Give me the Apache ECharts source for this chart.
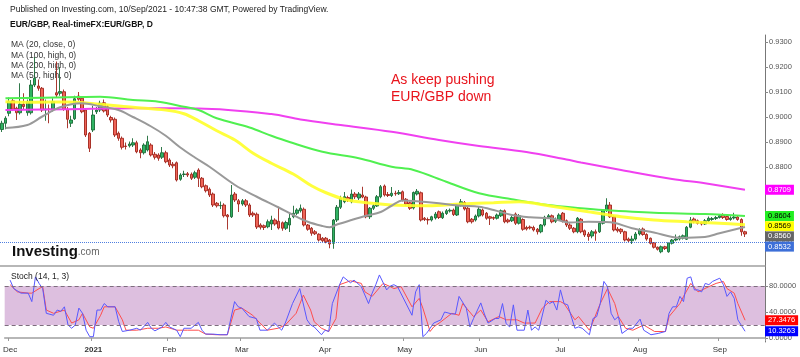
<!DOCTYPE html>
<html><head><meta charset="utf-8">
<script src="https://cdn.jsdelivr.net/npm/echarts@6/dist/echarts.min.js"></script>
<style>html,body{margin:0;padding:0;background:#fff}#c{width:800px;height:357px}</style>
</head><body><div id="c"></div>
<script>
// ---- OHLC (daily, 2020-11-30 .. 2021-09-10) ----
const opens = [.8950,.8975,.9015,.9065,.9035,.9017,.9051,.9017,.9017,.9128,.9124,.9115,.9028,.9032,.9031,.9097,.9095,.9101,.9031,.8975,.8993,.9084,.9075,.9028,.8935,.8948,.9021,.9028,.9057,.9041,.8998,.8991,.8935,.8915,.8884,.8885,.8888,.8897,.8868,.8857,.8868,.8888,.8851,.8848,.8839,.8857,.8828,.8811,.8817,.8751,.8770,.8773,.8771,.8759,.8788,.8755,.8725,.8711,.8692,.8655,.8645,.8648,.8608,.8601,.8692,.8665,.8652,.8665,.8648,.8615,.8611,.8568,.8565,.8561,.8572,.8588,.8583,.8577,.8555,.8568,.8601,.8615,.8625,.8631,.8568,.8555,.8541,.8531,.8515,.8515,.8508,.8495,.8588,.8639,.8661,.8678,.8661,.8692,.8676,.8688,.8680,.8601,.8635,.8644,.8681,.8724,.8690,.8686,.8695,.8693,.8701,.8671,.8657,.8636,.8692,.8697,.8595,.8590,.8588,.8596,.8621,.8597,.8614,.8624,.8628,.8608,.8648,.8658,.8635,.8591,.8588,.8604,.8628,.8615,.8601,.8598,.8595,.8605,.8625,.8588,.8585,.8612,.8575,.8590,.8558,.8560,.8558,.8551,.8541,.8568,.8599,.8605,.8583,.8590,.8615,.8585,.8568,.8555,.8541,.8591,.8545,.8532,.8524,.8541,.8541,.8575,.8628,.8648,.8601,.8552,.8551,.8541,.8512,.8505,.8512,.8532,.8552,.8530,.8515,.8497,.8479,.8461,.8481,.8461,.8495,.8508,.8512,.8515,.8511,.8559,.8592,.8585,.8578,.8572,.8585,.8590,.8594,.8598,.8608,.8602,.8590,.8596,.8600,.8590,.8541];
const closes = [.8975,.8995,.9061,.9031,.9017,.9051,.9042,.9061,.9128,.9155,.9115,.9028,.9032,.9030,.9061,.9088,.9102,.9031,.8991,.8988,.9073,.9071,.9021,.8928,.8875,.9008,.9028,.9055,.9024,.9008,.8988,.8928,.8915,.8879,.8882,.8892,.8897,.8861,.8857,.8888,.8901,.8848,.8839,.8835,.8857,.8821,.8808,.8805,.8748,.8768,.8772,.8768,.8755,.8777,.8755,.8721,.8705,.8688,.8648,.8645,.8646,.8605,.8601,.8688,.8668,.8652,.8665,.8648,.8608,.8608,.8560,.8559,.8558,.8581,.8588,.8572,.8556,.8555,.8578,.8595,.8615,.8628,.8635,.8568,.8551,.8535,.8533,.8508,.8505,.8501,.8492,.8588,.8639,.8675,.8681,.8668,.8692,.8681,.8692,.8680,.8601,.8635,.8645,.8681,.8721,.8688,.8686,.8695,.8693,.8698,.8668,.8652,.8635,.8698,.8703,.8588,.8590,.8588,.8601,.8612,.8598,.8615,.8625,.8627,.8610,.8648,.8661,.8632,.8581,.8581,.8604,.8631,.8608,.8595,.8595,.8595,.8608,.8625,.8581,.8581,.8598,.8575,.8605,.8551,.8552,.8556,.8548,.8541,.8568,.8599,.8605,.8581,.8590,.8608,.8585,.8568,.8555,.8541,.8595,.8541,.8528,.8522,.8541,.8535,.8575,.8628,.8648,.8601,.8548,.8545,.8541,.8508,.8505,.8512,.8532,.8548,.8530,.8512,.8495,.8479,.8471,.8481,.8474,.8497,.8508,.8512,.8521,.8525,.8559,.8588,.8581,.8575,.8572,.8585,.8595,.8594,.8598,.8605,.8598,.8590,.8596,.8600,.8590,.8541,.8532];
const lows = [.8940,.8951,.9003,.9025,.8988,.9010,.9030,.9005,.9010,.9120,.9105,.9020,.8985,.8975,.9022,.9080,.9085,.9025,.8955,.8960,.8988,.9065,.9015,.8920,.8860,.8940,.9012,.9020,.9018,.9000,.8978,.8920,.8905,.8870,.8870,.8878,.8880,.8855,.8835,.8850,.8862,.8842,.8830,.8825,.8832,.8815,.8800,.8795,.8742,.8745,.8760,.8760,.8748,.8752,.8720,.8715,.8698,.8680,.8640,.8638,.8632,.8598,.8550,.8596,.8660,.8620,.8645,.8640,.8600,.8600,.8552,.8550,.8548,.8555,.8548,.8565,.8550,.8545,.8548,.8540,.8595,.8608,.8618,.8562,.8545,.8525,.8528,.8502,.8498,.8495,.8475,.8473,.8580,.8632,.8655,.8660,.8655,.8672,.8668,.8675,.8595,.8592,.8628,.8640,.8675,.8682,.8680,.8680,.8685,.8688,.8662,.8646,.8628,.8630,.8686,.8582,.8584,.8570,.8582,.8590,.8592,.8592,.8608,.8618,.8604,.8604,.8642,.8626,.8575,.8574,.8582,.8598,.8602,.8589,.8568,.8588,.8590,.8600,.8575,.8575,.8580,.8568,.8570,.8545,.8546,.8550,.8542,.8530,.8535,.8562,.8595,.8575,.8576,.8584,.8578,.8560,.8548,.8535,.8535,.8535,.8520,.8505,.8515,.8505,.8536,.8570,.8620,.8596,.8542,.8538,.8532,.8502,.8498,.8492,.8506,.8526,.8525,.8505,.8490,.8474,.8466,.8455,.8468,.8457,.8490,.8503,.8506,.8510,.8508,.8555,.8575,.8570,.8566,.8568,.8580,.8585,.8588,.8594,.8592,.8585,.8585,.8590,.8585,.8525,.8520];
const highs = [.8985,.9003,.9078,.9075,.9041,.9135,.9095,.9070,.9148,.9240,.9150,.9120,.9070,.9050,.9075,.9222,.9200,.9110,.9040,.9005,.9085,.9100,.9082,.9035,.8940,.9045,.9040,.9065,.9070,.9048,.9005,.8998,.8942,.8922,.8898,.8902,.8915,.8905,.8875,.8895,.8925,.8895,.8860,.8855,.8880,.8865,.8835,.8820,.8822,.8775,.8785,.8780,.8778,.8785,.8795,.8760,.8730,.8718,.8698,.8660,.8662,.8655,.8612,.8728,.8700,.8672,.8672,.8672,.8655,.8622,.8618,.8575,.8570,.8590,.8605,.8595,.8641,.8582,.8585,.8615,.8645,.8635,.8650,.8638,.8572,.8560,.8548,.8535,.8520,.8520,.8512,.8592,.8648,.8685,.8700,.8685,.8710,.8700,.8700,.8721,.8685,.8640,.8652,.8688,.8728,.8730,.8700,.8720,.8705,.8708,.8706,.8676,.8662,.8702,.8712,.8702,.8600,.8598,.8605,.8620,.8626,.8622,.8632,.8634,.8634,.8652,.8672,.8664,.8640,.8596,.8610,.8640,.8634,.8620,.8605,.8602,.8614,.8630,.8630,.8594,.8605,.8618,.8612,.8595,.8565,.8566,.8565,.8556,.8572,.8605,.8612,.8610,.8598,.8615,.8620,.8590,.8575,.8560,.8600,.8596,.8550,.8540,.8548,.8550,.8580,.8632,.8675,.8660,.8606,.8560,.8555,.8545,.8518,.8525,.8540,.8555,.8558,.8535,.8518,.8500,.8482,.8486,.8485,.8500,.8512,.8530,.8526,.8530,.8564,.8600,.8598,.8590,.8582,.8592,.8602,.8600,.8604,.8612,.8615,.8608,.8603,.8617,.8606,.8595,.8545];

// ---- moving averages, read at [bar index, value] ----
const ma20 = [[1,.8956],[7,.8968],[11,.9001],[16,.9039],[22,.9055],[27,.9043],[32,.9028],[36,.9000],[41,.8962],[45,.8925],[49,.8878],[53,.8838],[57,.8801],[64,.8728],[70,.8681],[76,.8638],[80,.8608],[84,.8581],[88,.8564],[90,.8559],[92,.8570],[96,.8588],[100,.8605],[104,.8620],[107,.8645],[110,.8666],[113,.8664],[120,.8655],[126,.8645],[131,.8641],[135,.8628],[140,.8608],[145,.8599],[151,.8594],[156,.8578],[161,.8581],[165,.8580],[168,.8577],[173,.8555],[179,.8538],[186,.8517],[193,.8520],[197,.8535],[202,.8553],[204,.8560]];
const ma50 = [[1,.9061],[9,.9059],[18,.9060],[27,.9051],[36,.9039],[45,.9028],[50,.9013],[54,.8985],[59,.8945],[64,.8908],[69,.8855],[74,.8815],[80,.8772],[85,.8725],[89,.8697],[94,.8671],[98,.8661],[107,.8648],[117,.8645],[126,.8652],[135,.8657],[142,.8661],[151,.8643],[161,.8621],[170,.8601],[179,.8588],[188,.8581],[197,.8575],[204,.8569]];
const ma100 = [[1,.9075],[18,.9079],[27,.9081],[36,.9068],[43,.9061],[50,.9041],[54,.9028],[59,.8995],[68,.8958],[74,.8925],[79,.8900],[88,.8861],[98,.8835],[107,.8801],[113,.8788],[122,.8741],[131,.8695],[140,.8671],[150,.8648],[159,.8635],[165,.8628],[179,.8617],[193,.8612],[204,.8604]];
const ma200 = [[1,.9028],[18,.9031],[36,.9035],[54,.9034],[74,.9012],[82,.8990],[93,.8968],[107,.8941],[120,.8908],[131,.8884],[144,.8860],[155,.8830],[159,.8818],[170,.8788],[184,.8752],[193,.8735],[204,.8709]];

// ---- Stochastic (14,1,3) ----
const stochK = [[1,89],[2,76],[4,69],[6,69],[7,56],[8,94],[9,84],[10,76],[11,38],[13,35],[14,43],[15,41],[16,48],[17,20],[18,15],[19,20],[20,46],[21,38],[22,12],[23,2],[24,2],[25,43],[26,43],[27,53],[28,48],[30,48],[31,25],[32,10],[34,12],[36,15],[37,12],[39,24],[40,15],[41,11],[43,17],[44,24],[45,17],[47,12],[48,2],[49,15],[51,15],[53,24],[54,12],[55,6],[57,6],[59,5],[61,5],[63,56],[64,48],[65,46],[67,33],[69,30],[70,12],[72,12],[73,17],[74,23],[76,12],[77,23],[79,53],[81,76],[83,28],[84,20],[85,17],[87,5],[88,12],[89,10],[90,53],[92,82],[93,94],[95,85],[96,89],[98,79],[100,53],[101,69],[102,82],[103,97],[105,74],[106,80],[107,82],[108,79],[112,35],[113,71],[114,82],[115,2],[116,7],[118,23],[120,28],[121,40],[123,37],[124,37],[125,64],[127,46],[128,17],[129,30],[131,54],[132,37],[133,23],[135,30],[136,30],[137,53],[138,22],[139,17],[140,51],[141,12],[143,12],[144,43],[145,12],[146,17],[147,12],[149,58],[150,53],[151,56],[152,43],[153,74],[154,53],[155,51],[157,15],[158,17],[159,15],[161,5],[162,30],[163,33],[164,53],[165,87],[166,79],[167,38],[168,28],[169,33],[170,7],[172,15],[173,15],[175,29],[176,12],[178,5],[180,7],[182,10],[183,38],[184,48],[185,48],[186,64],[187,56],[188,92],[189,94],[190,74],[191,74],[192,71],[193,84],[194,82],[195,87],[197,92],[198,82],[199,64],[200,71],[201,61],[202,28],[204,10.3263]];
const stochD = [[1,82],[3,71],[6,69],[7,69],[9,76],[10,79],[11,43],[13,38],[16,43],[18,23],[20,28],[21,38],[23,17],[24,15],[26,35],[27,48],[30,48],[32,28],[33,12],[36,12],[39,15],[42,15],[44,17],[47,12],[50,12],[53,12],[55,6],[58,5],[61,5],[63,43],[65,46],[68,35],[70,23],[72,12],[75,15],[77,20],[80,38],[82,66],[84,43],[85,25],[87,15],[89,10],[91,30],[92,82],[95,88],[98,84],[99,71],[101,64],[104,84],[106,79],[107,76],[109,79],[112,48],[114,61],[115,46],[117,10],[118,17],[120,25],[123,38],[125,35],[126,53],[129,33],[131,43],[133,25],[136,33],[138,28],[141,28],[143,23],[146,23],[148,46],[150,56],[153,56],[154,53],[157,28],[158,33],[161,12],[162,25],[164,53],[166,76],[168,53],[169,33],[171,15],[173,12],[176,20],[179,10],[182,10],[183,33],[186,53],[187,64],[189,84],[191,71],[194,79],[196,84],[198,87],[199,76],[201,69],[202,53],[204,27.3476]];

// ---- axis ticks ----
const monthTicks = [['2020-12-01','Dec'],['2021-01-01','2021'],['2021-02-01','Feb'],['2021-03-01','Mar'],['2021-04-01','Apr'],['2021-05-03','May'],['2021-06-01','Jun'],['2021-07-01','Jul'],['2021-08-02','Aug'],['2021-09-01','Sep']];
const priceTicks = [0.85,0.86,0.87,0.88,0.89,0.90,0.91,0.92,0.93];
const stochTicks = [0,40,80];
const stochBand = [20,80];

// categories: trading days + empty slots on the right
const dates = [];
for (let d = new Date(Date.UTC(2020,10,30)); d.getTime() <= Date.UTC(2021,8,10); d.setUTCDate(d.getUTCDate()+1)) {
  const wd = d.getUTCDay(); if (wd > 0 && wd < 6) dates.push(d.toISOString().slice(0,10));
}
for (let i = 0; i < 5; i++) dates.push('pad' + i);
const tickMap = Object.fromEntries(monthTicks);
const isTick = (idx, val) => tickMap[val] !== undefined;

const ohlc = closes.map((c, i) => [opens[i], c, lows[i], highs[i]]);
const lastPrice = closes[closes.length - 1];
const last = a => a[a.length - 1][1];

const FONT = 'Arial, "Liberation Sans", sans-serif';
const chart = echarts.init(document.getElementById('c'), null, {renderer: 'canvas', width: 800, height: 357});

const maLine = (data, color, width) => ({type: 'line', xAxisIndex: 0, yAxisIndex: 0, data, showSymbol: false, smooth: 0.35, z: 3,
  lineStyle: {color, width}, silent: true});

const staticEls = [
  {type: 'text', x: 10, y: 10, style: {text: 'Published on Investing.com, 10/Sep/2021 - 10:47:38 GMT, Powered by TradingView.', font: '8.5px ' + FONT, fill: '#222', verticalAlign: 'middle'}},
  {type: 'text', x: 10, y: 25, style: {text: 'EUR/GBP, Real-timeFX:EUR/GBP, D', font: 'bold 8.5px ' + FONT, fill: '#111', verticalAlign: 'middle'}},
  {type: 'text', x: 11, y: 45, style: {text: 'MA (20, close, 0)', font: '8.5px ' + FONT, fill: '#333', verticalAlign: 'middle'}},
  {type: 'text', x: 11, y: 55.5, style: {text: 'MA (100, high, 0)', font: '8.5px ' + FONT, fill: '#333', verticalAlign: 'middle'}},
  {type: 'text', x: 11, y: 66, style: {text: 'MA (200, high, 0)', font: '8.5px ' + FONT, fill: '#333', verticalAlign: 'middle'}},
  {type: 'text', x: 11, y: 76, style: {text: 'MA (50, high, 0)', font: '8.5px ' + FONT, fill: '#333', verticalAlign: 'middle'}},
  {type: 'text', x: 11, y: 277, z: 50, style: {text: 'Stoch (14, 1, 3)', font: '8.5px ' + FONT, fill: '#222', verticalAlign: 'middle'}},
  {type: 'text', x: 391, y: 80, style: {text: 'As keep pushing', font: '14px ' + FONT, fill: '#e8141c', verticalAlign: 'middle'}},
  {type: 'text', x: 391, y: 97, style: {text: 'EUR/GBP down', font: '14px ' + FONT, fill: '#e8141c', verticalAlign: 'middle'}},
  {type: 'text', x: 12, y: 252, z: 50, style: {text: '{a|Investing}{b|.com}', verticalAlign: 'middle',
    rich: {a: {font: 'bold 15px ' + FONT, fill: '#111'}, b: {font: '10px ' + FONT, fill: '#666'}}}}
];

const option = {
  animation: false,
  backgroundColor: '#ffffff',
  grid: [
    {left: 0, right: 35, top: 35, height: 231},
    {left: 0, right: 35, top: 266, height: 76}
  ],
  xAxis: [
    {type: 'category', gridIndex: 0, data: dates, boundaryGap: true,
      axisLine: {lineStyle: {color: '#a0a0a0', width: 1.5}}, axisTick: {show: false}, axisLabel: {show: false}, splitLine: {show: false}},
    {type: 'category', gridIndex: 1, data: dates, boundaryGap: true,
      axisLine: {lineStyle: {color: '#a0a0a0', width: 1.5}},
      axisTick: {show: true, interval: isTick, length: 3, lineStyle: {color: '#999'}},
      axisLabel: {interval: isTick, margin: 4, fontSize: 8, color: '#333', fontFamily: FONT, alignMinLabel: 'center',
        formatter: v => tickMap[v] === '2021' ? '{b|2021}' : (tickMap[v] || ''),
        rich: {b: {fontWeight: 'bold', fontSize: 8, color: '#333', fontFamily: FONT}}},
      splitLine: {show: false}}
  ],
  yAxis: [
    {type: 'value', gridIndex: 0, position: 'right', min: 0.8404, max: 0.9328,
      splitLine: {show: false}, axisLine: {show: true, lineStyle: {color: '#777'}},
      axisTick: {show: true, length: 3, lineStyle: {color: '#888'}, customValues: priceTicks},
      axisLabel: {customValues: priceTicks, formatter: v => v.toFixed(4), fontSize: 7.5, color: '#555', margin: 4, fontFamily: FONT}},
    {type: 'value', gridIndex: 1, position: 'right', min: -6.154, max: 110.77,
      splitLine: {show: false}, axisLine: {show: true, lineStyle: {color: '#777'}},
      axisTick: {show: true, length: 3, lineStyle: {color: '#888'}, customValues: stochTicks},
      axisLabel: {customValues: stochTicks, formatter: v => v.toFixed(4), fontSize: 7.5, color: '#555', margin: 4, fontFamily: FONT}}
  ],
  series: [
    {type: 'candlestick', xAxisIndex: 0, yAxisIndex: 0, data: ohlc, barWidth: 3, z: 2,
      itemStyle: {color: '#2fb363', color0: '#ee6457', borderColor: '#1a6a36', borderColor0: '#a0241b', borderWidth: 0.9},
      markLine: {silent: true, symbol: 'none', label: {show: false},
        lineStyle: {type: 'dotted', color: '#4f7fe0', width: 1}, data: [{yAxis: lastPrice}]}},
    maLine(ma200, '#f040f0', 2),
    maLine(ma100, '#50f050', 2),
    maLine(ma50, 'rgba(255,255,40,0.9)', 3),
    maLine(ma20, '#999999', 2),
    {type: 'line', xAxisIndex: 1, yAxisIndex: 1, data: stochD, showSymbol: false, z: 3,
      lineStyle: {color: '#ff4d4d', width: 1}, silent: true,
      markArea: {silent: true, itemStyle: {color: '#ddbfdf'}, data: [[{yAxis: stochBand[0]}, {yAxis: stochBand[1]}]]},
      markLine: {silent: true, symbol: 'none', label: {show: false},
        lineStyle: {type: [4, 3], color: '#7d6d7d', width: 1}, data: [{yAxis: stochBand[0]}, {yAxis: stochBand[1]}]}},
    {type: 'line', xAxisIndex: 1, yAxisIndex: 1, data: stochK, showSymbol: false, z: 4,
      lineStyle: {color: '#5858ff', width: 1}, silent: true}
  ],
  graphic: {elements: staticEls}
};
chart.setOption(option);

// value tags on the right axes, stacked to avoid overlap
function tagEls(items, axisIndex, h) {
  const arr = items.map(t => Object.assign({}, t, {y: chart.convertToPixel({yAxisIndex: axisIndex}, t.v)}))
    .sort((a, b) => a.y - b.y);
  let prev = -1e9;
  arr.forEach(t => { if (t.y < prev + h) t.y = prev + h; prev = t.y; });
  return arr.map(t => ({type: 'text', z: 100, x: 765, y: t.y,
    style: {text: t.text, fill: t.fg, backgroundColor: t.bg, padding: [1, 3, 1, 3], font: '7.5px ' + FONT, verticalAlign: 'middle', align: 'left'}}));
}
const mainTags = [
  {v: last(ma200), text: last(ma200).toFixed(4), bg: '#ff00ff', fg: '#ffffff'},
  {v: last(ma100), text: last(ma100).toFixed(4), bg: '#22ee22', fg: '#000000'},
  {v: last(ma50), text: last(ma50).toFixed(4), bg: '#ffff00', fg: '#000000'},
  {v: last(ma20), text: last(ma20).toFixed(4), bg: '#666666', fg: '#ffffff'},
  {v: lastPrice, text: lastPrice.toFixed(4), bg: '#3d6fd8', fg: '#ffffff'}
];
const stochTags = [
  {v: last(stochD), text: last(stochD).toFixed(4), bg: '#ff0000', fg: '#ffffff'},
  {v: last(stochK), text: last(stochK).toFixed(4), bg: '#0000ff', fg: '#ffffff'}
];
chart.setOption({graphic: {elements: staticEls.concat(tagEls(mainTags, 0, 10.2), tagEls(stochTags, 1, 10.2))}});
</script>
</body></html>
